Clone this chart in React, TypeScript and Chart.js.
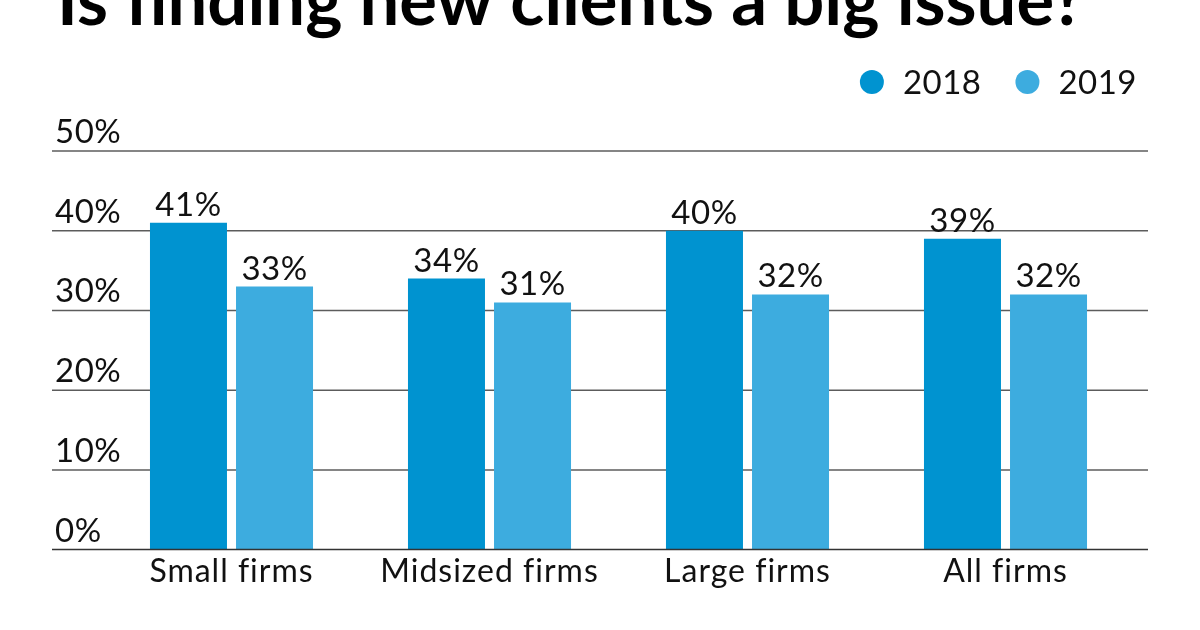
import { useEffect, useRef } from "react";
import { Chart, registerables } from "chart.js";

Chart.register(...registerables);

const title = "Is finding new clients a big issue?";
const categories = ["Small firms", "Midsized firms", "Large firms", "All firms"];
const seriesLabels = ["2018", "2019"];
const values2018 = [41, 34, 40, 39];
const values2019 = [33, 31, 32, 32];
const yTicks = [0, 10, 20, 30, 40, 50];
const seriesColors = ["#0093d0", "#3dacdf"];

const FONT = "Lato, 'Open Sans', sans-serif";
const TEXT = "#111111";

const overlayPlugin = {
  id: "overlay",
  beforeDraw(chart: any) {
    (chart.ctx as any).letterSpacing = "1px";
  },
  beforeDatasetsDraw(chart: any) {
    const { ctx } = chart;
    const y = chart.scales.y;
    ctx.save();
    ctx.letterSpacing = "0.5px";
    ctx.strokeStyle = "#5c5c5c";
    ctx.lineWidth = 1.5;
    ctx.fillStyle = TEXT;
    ctx.font = `33px ${FONT}`;
    ctx.textAlign = "left";
    ctx.textBaseline = "alphabetic";
    yTicks.forEach((v) => {
      const py = y.getPixelForValue(v);
      if (v !== 0) {
        ctx.beginPath();
        ctx.moveTo(52, py);
        ctx.lineTo(1148, py);
        ctx.stroke();
      }
      ctx.fillText(`${v}%`, 55, py - 8);
    });
    ctx.restore();
  },
  afterDatasetsDraw(chart: any) {
    const { ctx } = chart;
    const y = chart.scales.y;
    ctx.save();
    ctx.strokeStyle = "#333333";
    ctx.lineWidth = 1.5;
    const p0 = y.getPixelForValue(0);
    ctx.beginPath();
    ctx.moveTo(52, p0);
    ctx.lineTo(1148, p0);
    ctx.stroke();
    ctx.letterSpacing = "0.5px";
    ctx.fillStyle = TEXT;
    ctx.font = `33px ${FONT}`;
    ctx.textAlign = "center";
    ctx.textBaseline = "alphabetic";
    chart.data.datasets.forEach((ds: any, i: number) => {
      const meta = chart.getDatasetMeta(i);
      meta.data.forEach((bar: any, j: number) => {
        ctx.fillText(`${ds.data[j]}%`, bar.x, bar.y - 7);
      });
    });
    ctx.restore();
  },
  afterDraw(chart: any) {
    const { ctx } = chart;
    ctx.save();
    ctx.letterSpacing = "0px";
    ctx.fillStyle = "#000";
    ctx.textAlign = "left";
    ctx.textBaseline = "alphabetic";
    let size = 60;
    ctx.font = `bold ${size}px ${FONT}`;
    const w = ctx.measureText(title).width;
    size = (size * 1028) / w;
    ctx.font = `bold ${size}px ${FONT}`;
    ctx.fillText(title, 57, 25);
    ctx.letterSpacing = "0.5px";
    ctx.font = `33px ${FONT}`;
    const items = chart.data.datasets.map((d: any) => ({ label: d.label, color: d.backgroundColor }));
    const widths = items.map((it: any) => ctx.measureText(it.label).width);
    const r = 12;
    const gapCircleText = 19;
    const gapItems = 34;
    let total = 0;
    items.forEach((_: any, i: number) => {
      total += 2 * r + gapCircleText + widths[i] + (i < items.length - 1 ? gapItems : 0);
    });
    let x = 1137 - total;
    items.forEach((it: any, i: number) => {
      ctx.fillStyle = it.color;
      ctx.beginPath();
      ctx.arc(x + r, 82, r, 0, Math.PI * 2);
      ctx.fill();
      ctx.fillStyle = TEXT;
      ctx.fillText(it.label, x + 2 * r + gapCircleText, 94);
      x += 2 * r + gapCircleText + widths[i] + gapItems;
    });
    ctx.restore();
  },
};

export default function App() {
  const ref = useRef<HTMLCanvasElement | null>(null);
  useEffect(() => {
    document.body.style.margin = "0";
    if (!ref.current) return;
    const chart = new Chart(ref.current, {
      type: "bar",
      data: {
        labels: categories,
        datasets: [
          { label: seriesLabels[0], data: values2018, backgroundColor: seriesColors[0] },
          { label: seriesLabels[1], data: values2019, backgroundColor: seriesColors[1] },
        ],
      },
      options: {
        animation: false,
        responsive: true,
        maintainAspectRatio: false,
        layout: { padding: { left: 102.5, right: 65.5, top: 151, bottom: 37 } },
        datasets: {
          bar: { categoryPercentage: 0.667, barPercentage: 0.895 },
        },
        plugins: {
          legend: { display: false },
          tooltip: { enabled: false },
          title: { display: false },
        },
        scales: {
          y: { display: false, min: 0, max: 50 },
          x: {
            display: true,
            grid: { display: false, drawTicks: false, tickLength: 0 },
            border: { display: false },
            ticks: {
              padding: 2.5,
              color: TEXT,
              font: { family: FONT, size: 32, lineHeight: 1.2 },
              maxRotation: 0,
              autoSkip: false,
            },
          },
        },
      },
      plugins: [overlayPlugin],
    });
    return () => chart.destroy();
  }, []);
  return (
    <div style={{ position: "fixed", left: 0, top: 0, width: 1200, height: 630, background: "#fff" }}>
      <canvas ref={ref} />
    </div>
  );
}
